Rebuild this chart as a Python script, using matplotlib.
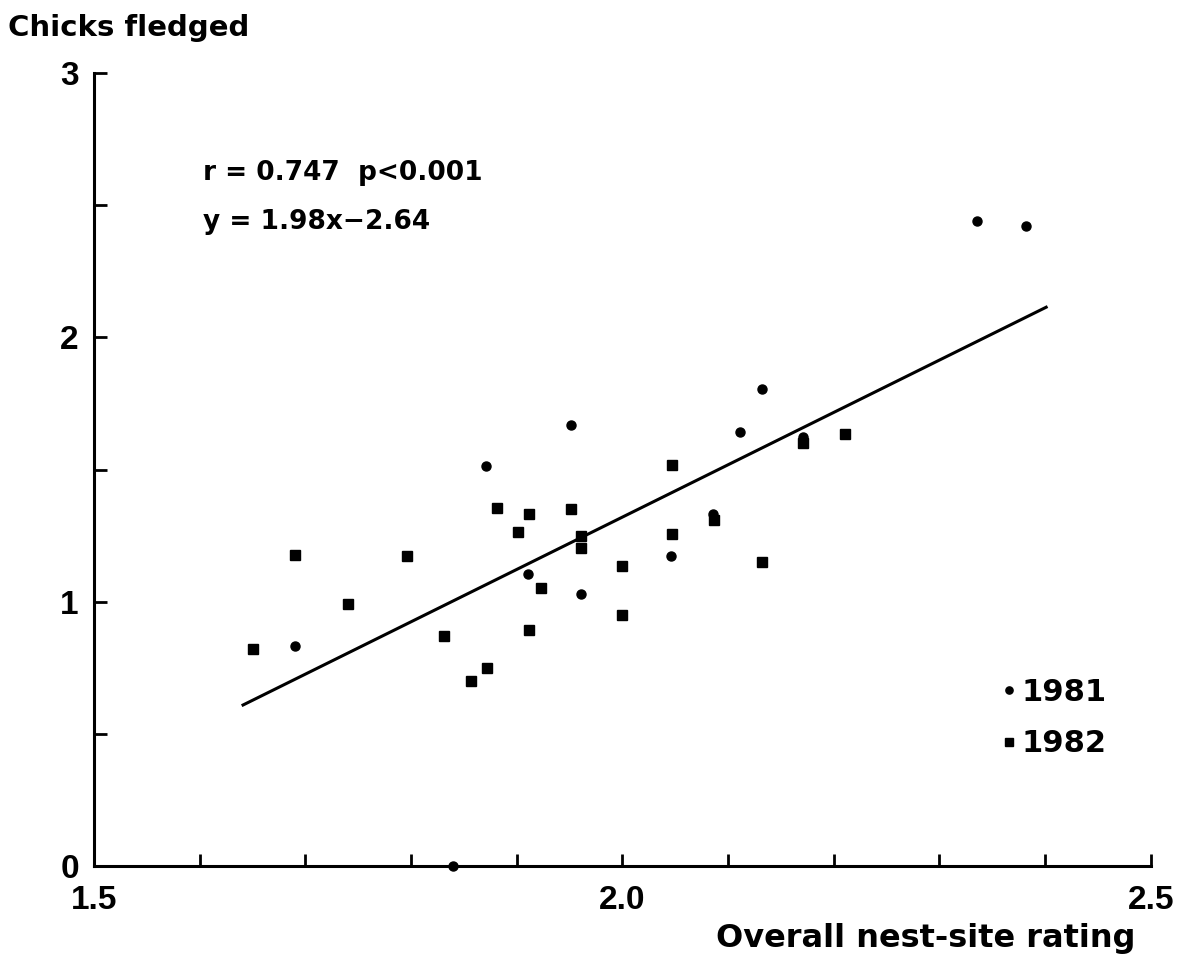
import numpy as np
import matplotlib
matplotlib.use("Agg")
import matplotlib.pyplot as plt
from matplotlib.ticker import MultipleLocator, FixedLocator

plt.rcParams['font.family'] = ['DejaVu Sans']

# 1981 (circles)
x81 = [1.690, 1.871, 1.951, 1.911, 1.961, 2.046, 2.111, 2.132, 2.336, 2.382,
       1.840, 2.086, 2.171]
y81 = [0.832, 1.512, 1.667, 1.104, 1.028, 1.172, 1.641, 1.803, 2.439, 2.423,
       0.000, 1.331, 1.622]

# 1982 (squares)
x82 = [1.650, 1.690, 1.740, 1.796, 1.831, 1.857, 1.872, 1.881, 1.901, 1.912,
       1.912, 1.923, 1.951, 1.961, 1.961, 2.000, 2.000, 2.047, 2.047, 2.087,
       2.132, 2.171, 2.211]
y82 = [0.820, 1.176, 0.991, 1.172, 0.870, 0.699, 0.749, 1.354, 1.263, 1.331,
       0.892, 1.051, 1.350, 1.248, 1.202, 1.134, 0.949, 1.516, 1.255, 1.308,
       1.149, 1.599, 1.633]

# regression from the annotation
slope, intercept = 1.98, -2.64
fit_x = [1.641, 2.401]

fig = plt.figure(figsize=(11.86, 9.58), dpi=100)
ax = fig.add_axes([0.0793, 0.0960, 0.891, 0.8278])

fx = np.array(fit_x)
ax.plot(fx, slope * fx + intercept, color='black', lw=2.2, zorder=2)
ax.plot(x81, y81, 'o', color='black', ms=6.5, ls='none', label='1981', zorder=3, clip_on=False)
ax.plot(x82, y82, 's', color='black', ms=7.5, ls='none', label='1982', zorder=3, clip_on=False)

ax.set_xlim(1.5, 2.5)
ax.set_ylim(0, 3)
for s in ['top', 'right']:
    ax.spines[s].set_visible(False)
for s in ['left', 'bottom']:
    ax.spines[s].set_linewidth(2.2)

ax.xaxis.set_major_locator(FixedLocator([1.5, 2.0, 2.5]))
ax.xaxis.set_minor_locator(MultipleLocator(0.1))
ax.set_xticklabels(['1.5', '2.0', '2.5'])
ax.yaxis.set_major_locator(FixedLocator([0, 1, 2, 3]))
ax.yaxis.set_minor_locator(MultipleLocator(0.5))
ax.tick_params(axis='both', which='both', direction='in', width=2, length=9)
ax.tick_params(axis='x', which='major', pad=14)
ax.tick_params(axis='y', which='major', pad=11)
for lab in ax.get_xticklabels() + ax.get_yticklabels():
    lab.set_fontweight('bold')
    lab.set_fontsize(24)
    lab.set_fontfamily('Liberation Sans')

fig.text(0.007, 0.962, 'Chicks fledged', fontsize=21, fontweight='bold',
         ha='left', va='baseline')
fig.text(0.957, 0.012, 'Overall nest-site rating', fontsize=23, fontweight='bold',
         ha='right', va='baseline')

ax.text(1.603, 2.62, 'r = 0.747  p<0.001', fontsize=19, fontweight='bold',
        ha='left', va='center')
ax.text(1.603, 2.435, 'y = 1.98x\u22122.64', fontsize=19, fontweight='bold',
        ha='left', va='center')

leg = ax.legend(loc='upper left', bbox_to_anchor=(0.846, 0.257), frameon=False,
                handlelength=0.4, handletextpad=0.2, borderpad=0,
                labelspacing=0.75, markerscale=0.8,
                prop={'size': 22, 'weight': 'bold'})

fig.savefig('out.png', dpi=100)
